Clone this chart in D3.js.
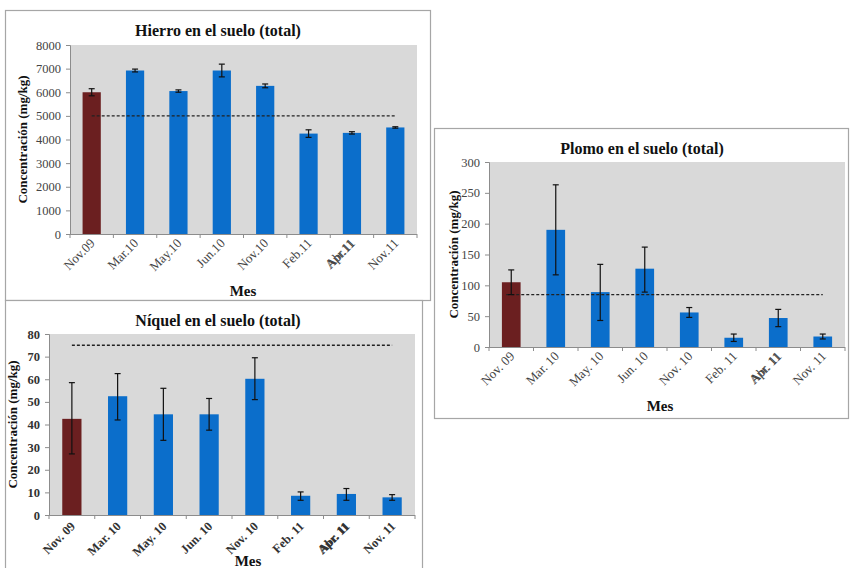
<!DOCTYPE html>
<html>
<head>
<meta charset="utf-8">
<script src="https://cdn.jsdelivr.net/npm/d3@7/dist/d3.min.js"></script>
<style>
  html, body { margin: 0; padding: 0; background: #fff; }
  svg { display: block; }
  text { font-family: "Liberation Serif", "Times New Roman", serif; }
</style>
</head>
<body>
<svg id="chart" width="852" height="568"></svg>
<script>
// Sampling months (Apr. label printed over Abr. in the original layout)
const months = ["Nov.09", "Mar.10", "May.10", "Jun.10", "Nov.10", "Feb.11", "Abr.11", "Nov.11"];
const monthsSpaced = ["Nov. 09", "Mar. 10", "May. 10", "Jun. 10", "Nov. 10", "Feb. 11", "Abr. 11", "Nov. 11"];

// Iron (mg/kg): mean and symmetric error
const hierroMean = [6000, 6920, 6050, 6920, 6270, 4250, 4280, 4510];
const hierroErr  = [150, 60, 50, 270, 80, 160, 50, 30];
const hierroLimit = 5000;
const hierroTicks = [0, 1000, 2000, 3000, 4000, 5000, 6000, 7000, 8000];

// Nickel (mg/kg)
const niquelMean = [42.5, 52.5, 44.5, 44.5, 60.2, 8.5, 9.3, 7.8];
const niquelLow  = [27, 42, 33, 37.5, 51, 6.5, 6.5, 6.5];
const niquelHigh = [58.5, 62.5, 56, 51.5, 69.5, 10.2, 11.7, 9];
const niquelLimit = 75;
const niquelTicks = [0, 10, 20, 30, 40, 50, 60, 70, 80];

// Lead (mg/kg)
const plomoMean = [105, 190, 89, 127, 56, 15, 47, 17];
const plomoLow  = [85, 117, 43, 89, 48, 9, 33, 13];
const plomoHigh = [125, 263, 134, 162, 64, 21, 61, 21];
const plomoLimit = 85;
const plomoTicks = [0, 50, 100, 150, 200, 250, 300];

const firstColor = "#6b1f20";
const barColor = "#0b6ecb";

const svg = d3.select("#chart");

function panel(cfg) {
  const g = svg.append("g");

  // frame
  g.append("rect")
    .attr("x", cfg.frame[0] + 0.5).attr("y", cfg.frame[1] + 0.5)
    .attr("width", cfg.frame[2]).attr("height", cfg.frame[3])
    .attr("fill", "#fff").attr("stroke", "#a6a6a6").attr("stroke-width", 1.2);

  const x = d3.scaleBand().domain(cfg.cats).range([cfg.plot[0], cfg.plot[1]])
    .paddingInner(0.58).paddingOuter(0.29);
  const y = d3.scaleLinear().domain([0, d3.max(cfg.ticks)]).range([cfg.plot[3], cfg.plot[2]]);

  // plot background
  g.append("rect")
    .attr("x", cfg.plot[0]).attr("y", cfg.plot[2])
    .attr("width", cfg.plot[1] - cfg.plot[0]).attr("height", cfg.plot[3] - cfg.plot[2])
    .attr("fill", "#d9d9d9");

  // y axis
  const ya = g.append("g").attr("transform", `translate(${cfg.plot[0]},0)`)
    .call(d3.axisLeft(y).tickValues(cfg.ticks).tickSize(4).tickPadding(5).tickFormat(d3.format("d")));
  ya.select(".domain").attr("stroke", "#8c8c8c");
  ya.selectAll(".tick line").attr("stroke", "#8c8c8c");
  ya.selectAll(".tick text")
    .attr("font-family", "Liberation Serif, serif")
    .attr("font-size", cfg.tickSize).attr("font-weight", cfg.tickWeight)
    .attr("fill", cfg.tickColor);

  // x axis baseline with ticks between categories
  g.append("line")
    .attr("x1", cfg.plot[0]).attr("x2", cfg.plot[1])
    .attr("y1", cfg.plot[3] + 0.5).attr("y2", cfg.plot[3] + 0.5)
    .attr("stroke", "#8c8c8c");
  const bounds = cfg.cats.map(c => x(c) - x.step() * x.paddingInner() / 2);
  bounds.push(cfg.plot[1]);
  g.selectAll(".xt").data(bounds).join("line")
    .attr("x1", d => d).attr("x2", d => d)
    .attr("y1", cfg.plot[3]).attr("y2", cfg.plot[3] + 4)
    .attr("stroke", "#8c8c8c");

  // bars
  g.selectAll(".bar").data(cfg.mean).join("rect")
    .attr("x", (d, i) => x(cfg.cats[i]))
    .attr("y", d => y(d))
    .attr("width", x.bandwidth())
    .attr("height", d => y(0) - y(d))
    .attr("fill", (d, i) => i === 0 ? firstColor : barColor);

  // reference limit (dashed)
  const cx = i => x(cfg.cats[i]) + x.bandwidth() / 2;
  g.append("line")
    .attr("x1", cx(0) + cfg.limitStart).attr("x2", cx(cfg.cats.length - 1))
    .attr("y1", y(cfg.limit)).attr("y2", y(cfg.limit))
    .attr("stroke", "#222").attr("stroke-width", 1.4).attr("stroke-dasharray", "3,2");

  // error bars
  const eg = g.selectAll(".err").data(cfg.mean.map((m, i) => ({ i, lo: cfg.low[i], hi: cfg.high[i] })))
    .join("g").attr("stroke", "#111").attr("stroke-width", 1.2);
  eg.append("line").attr("x1", d => cx(d.i)).attr("x2", d => cx(d.i))
    .attr("y1", d => y(d.lo)).attr("y2", d => y(d.hi));
  eg.append("line").attr("x1", d => cx(d.i) - 3).attr("x2", d => cx(d.i) + 3)
    .attr("y1", d => y(d.lo)).attr("y2", d => y(d.lo));
  eg.append("line").attr("x1", d => cx(d.i) - 3).attr("x2", d => cx(d.i) + 3)
    .attr("y1", d => y(d.hi)).attr("y2", d => y(d.hi));

  // rotated category labels
  const labelG = g.selectAll(".xl").data(cfg.labels).join("g")
    .attr("transform", (d, i) => `translate(${cx(i) + cfg.labelDx},${cfg.plot[3] + cfg.labelDy}) rotate(-45)`);
  labelG.append("text")
    .attr("text-anchor", "end")
    .attr("font-size", cfg.labelSize).attr("font-weight", cfg.tickWeight)
    .attr("fill", cfg.tickColor)
    .text(d => d);
  // overprinted English abbreviation on the April label
  labelG.filter((d, i) => i === 6).append("text")
    .attr("text-anchor", "end").attr("dx", -1)
    .attr("font-size", cfg.labelSize).attr("font-weight", cfg.tickWeight)
    .attr("fill", cfg.tickColor)
    .text(d => d.replace("Abr", "Apr"));

  // title
  g.append("text").attr("x", cfg.title[0]).attr("y", cfg.title[1])
    .attr("text-anchor", "middle").attr("font-size", 16).attr("font-weight", "bold")
    .attr("fill", "#111").text(cfg.titleText);

  // y axis label
  g.append("text")
    .attr("transform", `translate(${cfg.ylabX},${(cfg.plot[2] + cfg.plot[3]) / 2}) rotate(-90)`)
    .attr("text-anchor", "middle").attr("font-size", 13).attr("font-weight", "bold")
    .attr("fill", "#111").text("Concentración (mg/kg)");

  // x axis title
  g.append("text").attr("x", cfg.mes[0]).attr("y", cfg.mes[1])
    .attr("text-anchor", "middle").attr("font-size", 15).attr("font-weight", "bold")
    .attr("fill", "#111").text("Mes");
}

panel({
  frame: [5, 10, 425, 290], plot: [70, 417, 45, 234],
  cats: months, labels: months,
  mean: hierroMean,
  low: hierroMean.map((m, i) => m - hierroErr[i]),
  high: hierroMean.map((m, i) => m + hierroErr[i]),
  limit: hierroLimit, limitStart: 0, ticks: hierroTicks,
  tickSize: 12.5, labelSize: 13, tickWeight: "normal", tickColor: "#444",
  labelDx: 4, labelDy: 10,
  title: [218, 36], titleText: "Hierro en el suelo (total)",
  ylabX: 27, mes: [243, 296]
});

panel({
  frame: [5, 300, 417, 275], plot: [49, 415, 334, 515],
  cats: monthsSpaced, labels: monthsSpaced,
  mean: niquelMean, low: niquelLow, high: niquelHigh,
  limit: niquelLimit, limitStart: 0, ticks: niquelTicks,
  tickSize: 12.5, labelSize: 12.5, tickWeight: "bold", tickColor: "#333",
  labelDx: 4, labelDy: 12,
  title: [218, 326], titleText: "Níquel en el suelo (total)",
  ylabX: 17, mes: [248, 566]
});

panel({
  frame: [434, 128, 414, 290], plot: [489, 845, 162, 347],
  cats: monthsSpaced, labels: monthsSpaced,
  mean: plomoMean, low: plomoLow, high: plomoHigh,
  limit: plomoLimit, limitStart: -5, ticks: plomoTicks,
  tickSize: 12.5, labelSize: 13, tickWeight: "normal", tickColor: "#444",
  labelDx: 4, labelDy: 10,
  title: [642, 154], titleText: "Plomo en el suelo (total)",
  ylabX: 458, mes: [660, 411]
});
</script>
</body>
</html>
